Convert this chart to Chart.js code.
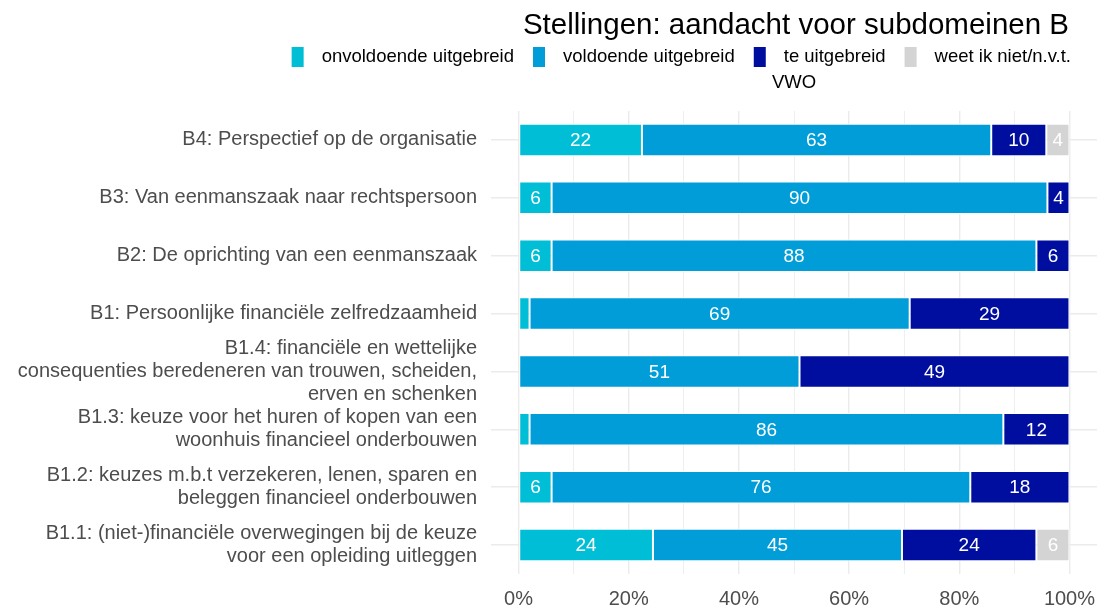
<!DOCTYPE html>
<html>
<head>
<meta charset="utf-8">
<script src="https://cdn.jsdelivr.net/npm/chart.js@4"></script>
<style>
  html, body { margin: 0; padding: 0; background: #fff; }
  #wrap { width: 1097px; height: 609px; position: relative; }
</style>
</head>
<body>
<div id="wrap"><canvas id="myChart"></canvas></div>
<script>
const categories = [
    ['B4: Perspectief op de organisatie'],
    ['B3: Van eenmanszaak naar rechtspersoon'],
    ['B2: De oprichting van een eenmanszaak'],
    ['B1: Persoonlijke financiële zelfredzaamheid'],
    ['B1.4: financiële en wettelijke', 'consequenties beredeneren van trouwen, scheiden,', 'erven en schenken'],
    ['B1.3: keuze voor het huren of kopen van een', 'woonhuis financieel onderbouwen'],
    ['B1.2: keuzes m.b.t verzekeren, lenen, sparen en', 'beleggen financieel onderbouwen'],
    ['B1.1: (niet-)financiële overwegingen bij de keuze', 'voor een opleiding uitleggen']
];

const seriesNames = ['onvoldoende uitgebreid', 'voldoende uitgebreid', 'te uitgebreid', 'weet ik niet/n.v.t.'];
const seriesColors = ['#00BED6', '#009DD9', '#000E9F', '#D4D4D4'];

const onvoldoende = [22.4, 6, 6, 2, null, 2, 6, 24.4];
const voldoende   = [63.4, 90, 88, 69, 51, 86, 76, 45.2];
const teUitgebreid = [10, 4, 6, 29, 49, 12, 18, 24.4];
const weetNiet    = [4.2, null, null, null, null, null, null, 6];

const xTicks = [0, 10, 20, 30, 40, 50, 60, 70, 80, 90, 100];

const titleText = 'Stellingen: aandacht voor subdomeinen B';
const subtitleText = 'VWO';

const FONT = "'Liberation Sans', Arial, sans-serif";

// title, legend and subtitle drawn by hand so they sit like the ggplot original
const headerPlugin = {
    id: 'header',
    afterDraw(chart) {
        const ctx = chart.ctx;
        const area = chart.chartArea;
        ctx.save();
        ctx.fillStyle = '#000';
        ctx.textBaseline = 'middle';

        ctx.font = '29.5px ' + FONT;
        ctx.textAlign = 'right';
        ctx.fillText(titleText, 1069, 26);

        ctx.font = '18.5px ' + FONT;
        ctx.textAlign = 'left';
        let x = 1071;
        for (let i = seriesNames.length - 1; i >= 0; i--) {
            const w = ctx.measureText(seriesNames[i]).width;
            x -= w;
            ctx.fillStyle = '#000';
            ctx.fillText(seriesNames[i], x, 57);
            x -= 18;
            ctx.fillStyle = seriesColors[i];
            ctx.fillRect(x - 12, 47, 12, 20);
            x -= 12 + 19;
        }

        ctx.fillStyle = '#000';
        ctx.textAlign = 'center';
        ctx.fillText(subtitleText, (area.left + area.right) / 2, 83);
        ctx.restore();
    }
};

const barLabels = {
    id: 'barLabels',
    afterDatasetsDraw(chart) {
        const ctx = chart.ctx;
        ctx.save();
        ctx.font = '19px ' + FONT;
        ctx.fillStyle = '#fff';
        ctx.textAlign = 'center';
        ctx.textBaseline = 'middle';
        chart.data.datasets.forEach((ds, di) => {
            chart.getDatasetMeta(di).data.forEach((bar, i) => {
                const v = ds.data[i];
                if (v == null || v < 3) return;
                const p = bar.getCenterPoint();
                ctx.fillText(Math.round(v), p.x, p.y + 1);
            });
        });
        ctx.restore();
    }
};

const seriesData = [onvoldoende, voldoende, teUitgebreid, weetNiet];

const ctx = document.getElementById('myChart').getContext('2d');
new Chart(ctx, {
    type: 'bar',
    data: {
        labels: categories,
        datasets: seriesNames.map((name, i) => ({
            label: name,
            data: seriesData[i],
            backgroundColor: seriesColors[i],
            borderColor: '#ffffff',
            borderWidth: 1,
            borderSkipped: false,
            barPercentage: 0.56,
            categoryPercentage: 1
        }))
    },
    options: {
        indexAxis: 'y',
        responsive: true,
        maintainAspectRatio: false,
        animation: false,
        layout: { padding: { top: 111, left: 0, right: 0, bottom: 0 } },
        plugins: {
            legend: { display: false },
            title: { display: false },
            tooltip: { enabled: false }
        },
        scales: {
            x: {
                stacked: true,
                min: -5,
                max: 105,
                afterBuildTicks(scale) {
                    scale.ticks = xTicks.map(v => ({ value: v }));
                },
                afterFit(scale) {
                    scale.height = 35;
                    scale.paddingLeft = 0;
                    scale.paddingRight = 0;
                },
                grid: {
                    color: '#EBEBEB',
                    lineWidth: c => (c.tick && c.tick.value % 20 === 0) ? 1.4 : 0.8,
                    drawTicks: false
                },
                border: { display: false },
                ticks: {
                    autoSkip: false,
                    maxRotation: 0,
                    color: '#4D4D4D',
                    font: { size: 20, family: FONT },
                    padding: 13,
                    callback: v => (v % 20 === 0) ? v + '%' : ''
                }
            },
            y: {
                stacked: true,
                afterFit(scale) {
                    scale.width = 491;
                },
                grid: {
                    color: '#EBEBEB',
                    lineWidth: 1.4,
                    offset: false,
                    drawTicks: false
                },
                border: { display: false },
                ticks: {
                    color: '#4D4D4D',
                    font: { size: 20, family: FONT, lineHeight: 1.15 },
                    padding: 14,
                    autoSkip: false
                }
            }
        }
    },
    plugins: [headerPlugin, barLabels]
});
</script>
</body>
</html>
